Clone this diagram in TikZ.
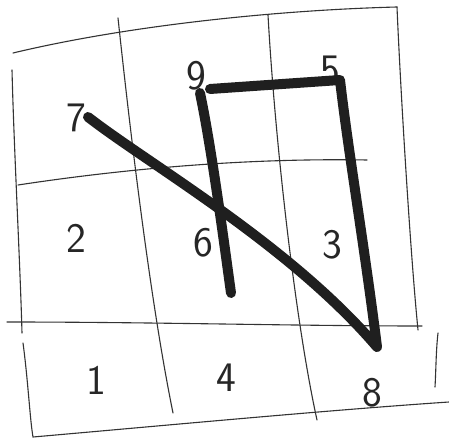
\documentclass[tikz,border=0pt]{standalone}
\usepackage{fontspec}
\setmainfont{DejaVu Sans}
\begin{document}
\begin{tikzpicture}[x=1pt,y=-1pt,
  grid/.style={draw=black!80,line width=1.1pt,line cap=round},
  thick path/.style={draw=black!88,line width=10pt,line cap=round,line join=round},
  digit/.style={font=\fontsize{42}{42}\selectfont\sffamily,text=black!85,inner sep=0pt}]
\useasboundingbox (0,0) rectangle (449,443);
\fill[white] (0,0) rectangle (449,443);
% grid lines
\draw[grid] (13,53) .. controls (130,25) and (280,10) .. (397,7);
\draw[grid] (397,7) .. controls (400,80) and (410,250) .. (418,330);
\draw[grid] (12,70) .. controls (14,150) and (20,260) .. (22,333);
\draw[grid] (23,343) .. controls (28,380) and (30,420) .. (33,437) .. controls (170,425) and (330,410) .. (449,402);
\draw[grid] (438,333) .. controls (436,350) and (436,370) .. (435,387);
\draw[grid] (118,18) .. controls (130,130) and (150,300) .. (173,413);
\draw[grid] (268,15) .. controls (275,140) and (295,320) .. (317,420);
\draw[grid] (18,185) .. controls (130,168) and (250,158) .. (367,160);
\draw[grid] (7,322) .. controls (150,322) and (300,326) .. (422,326);
% digits
\node[digit] (n7) at (76,118) {7};
\node[digit] (n9) at (196,76) {9};
\node[digit] (n5) at (330,70) {5};
\node[digit] (n2) at (76,238) {2};
\node[digit] (n6) at (203,243) {6};
\node[digit] (n3) at (332,245) {3};
\node[digit] (n1) at (96,380) {1};
\node[digit] (n4) at (226,378) {4};
\node[digit] (n8) at (372,393) {8};
% thick path
\coordinate (p7) at (88,117);
\coordinate (p8) at (377,347);
\coordinate (p5) at (340,80);
\coordinate (p9) at (210,89);
\coordinate (q9) at (200,93);
\coordinate (pend) at (231,293);
\draw[thick path] (p7) .. controls (150,165) and (290,245) .. (p8)
  .. controls (365,250) and (348,150) .. (p5) -- (p9);
\draw[thick path] (q9) .. controls (212,150) and (225,250) .. (pend);
\end{tikzpicture}
\end{document}
